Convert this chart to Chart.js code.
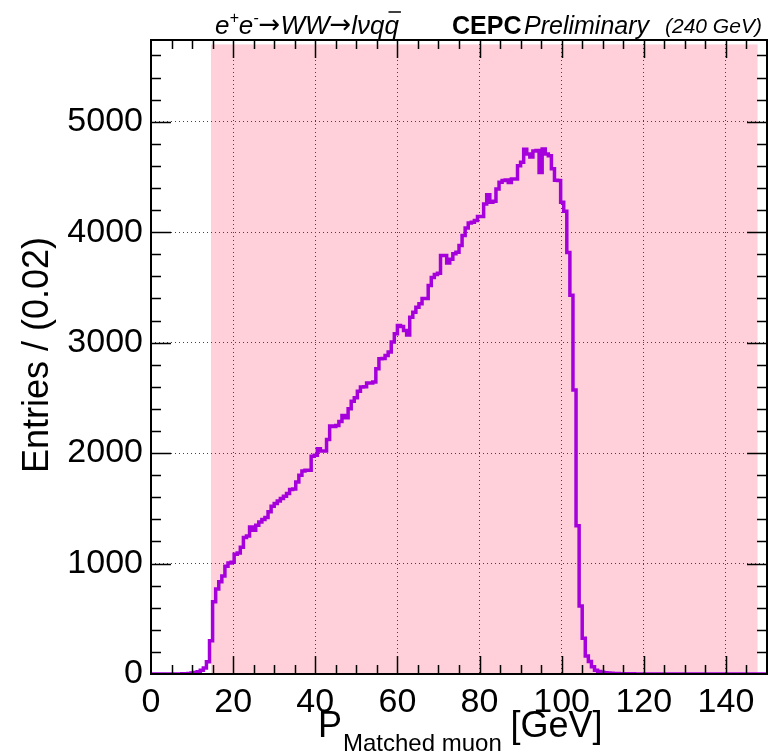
<!DOCTYPE html>
<html>
<head>
<meta charset="utf-8">
<script src="https://cdn.jsdelivr.net/npm/chart.js@4.4.0/dist/chart.umd.min.js"></script>
<style>
  html, body { margin: 0; padding: 0; background: #fff; }
  #wrap { width: 771px; height: 756px; }
</style>
</head>
<body>
<div id="wrap"><canvas id="histCanvas" width="771" height="756"></canvas></div>
<script>
  // Histogram binning (GeV)
  const xMin = 0;
  const xMax = 150;
  const binWidth = 0.75;

  // Entries per 0.75 GeV bin
  const entries = [
    0, 0, 0, 0, 0, 0, 0, 0, 0, 0,
    1, 2, 3, 5, 8, 13, 20, 35, 55, 110,
    300, 654, 770, 835, 888, 975, 1005, 1012, 1085, 1095,
    1148, 1235, 1250, 1332, 1302, 1347, 1377, 1398, 1416, 1468,
    1519, 1543, 1567, 1588, 1609, 1634, 1670, 1676, 1739, 1799,
    1839, 1845, 1845, 1971, 1980, 2040, 2019, 2019, 2122, 2245,
    2240, 2250, 2285, 2340, 2320, 2402, 2470, 2500, 2560, 2598,
    2600, 2634, 2634, 2643, 2764, 2854, 2856, 2884, 2915, 3005,
    3080, 3156, 3147, 3110, 3070, 3231, 3276, 3321, 3352, 3400,
    3400, 3517, 3590, 3617, 3629, 3789, 3789, 3720, 3755, 3804,
    3819, 3879, 3970, 4039, 4084, 4090, 4105, 4141, 4141, 4256,
    4340, 4270, 4280, 4391, 4452, 4467, 4473, 4450, 4482, 4482,
    4602, 4633, 4750, 4708, 4680, 4735, 4740, 4540, 4753, 4708,
    4693, 4575, 4470, 4467, 4271, 4190, 3815, 3430, 2572, 1343,
    615, 324, 162, 113, 65, 35, 22, 15, 11, 8,
    6, 5, 4, 3, 3, 2, 2, 2, 1, 1,
    1, 1, 1, 1, 1, 1, 1, 1, 0, 0,
    0, 0, 0, 0, 0, 0, 0, 0, 0, 0,
    0, 0, 0, 0, 0, 0, 0, 0, 0, 0,
    0, 0, 0, 0, 0, 0, 0, 0, 0, 0
  ];

  // Axis ranges and ticks
  const yMax = 5740;
  const xTickLabels = [0, 20, 40, 60, 80, 100, 120, 140];
  const yTickLabels = [0, 1000, 2000, 3000, 4000, 5000];
  const xMinorStep = 5;
  const yMinorStep = 200;

  // Shaded selection window
  const bandRange = [14.6, 147.7];
  const bandTop = 5700;

  const fontFamily = '"Liberation Sans", Arial, Helvetica, sans-serif';

  // histogram outline points (left bin edges, plus closing edge)
  const histPoints = entries.map((v, i) => ({ x: xMin + i * binWidth, y: v }));
  histPoints.push({ x: xMax, y: entries[entries.length - 1] });

  // pink band, drawn before the grid so the dotted lines stay on top
  const bandPlugin = {
    id: "band",
    beforeDraw(chart) {
      const { ctx, scales: { x, y } } = chart;
      ctx.save();
      ctx.fillStyle = "#fff";
      ctx.fillRect(0, 0, chart.width, chart.height);
      const x0 = x.getPixelForValue(bandRange[0]);
      const x1 = x.getPixelForValue(bandRange[1]);
      const yTop = y.getPixelForValue(bandTop);
      const yBot = y.getPixelForValue(0);
      ctx.fillStyle = "#ffd0d9";
      ctx.fillRect(x0, yTop, x1 - x0, yBot - yTop);
      ctx.restore();
    }
  };

  // ROOT style frame, inward ticks and texts
  const framePlugin = {
    id: "frame",
    afterDraw(chart) {
      const { ctx, chartArea: a, scales: { x, y } } = chart;
      ctx.save();
      ctx.strokeStyle = "#000";
      ctx.lineWidth = 1.5;
      ctx.beginPath();
      for (let v = xMin + xMinorStep; v < xMax; v += xMinorStep) {
        const len = xTickLabels.includes(v) ? 18 : 9;
        const px = Math.round(x.getPixelForValue(v)) + 0.5;
        ctx.moveTo(px, a.bottom); ctx.lineTo(px, a.bottom - len);
        ctx.moveTo(px, a.top); ctx.lineTo(px, a.top + len);
      }
      for (let v = yMinorStep; v < yMax; v += yMinorStep) {
        const len = yTickLabels.includes(v) ? 20 : 10;
        const py = Math.round(y.getPixelForValue(v)) + 0.5;
        ctx.moveTo(a.left, py); ctx.lineTo(a.left + len, py);
        ctx.moveTo(a.right, py); ctx.lineTo(a.right - len, py);
      }
      ctx.stroke();

      ctx.lineWidth = 2;
      ctx.strokeRect(a.left, a.top, a.right - a.left, a.bottom - a.top);

      // axis titles
      ctx.fillStyle = "#000";
      ctx.save();
      ctx.translate(38, 355);
      ctx.rotate(-Math.PI / 2);
      ctx.font = "36px " + fontFamily;
      ctx.textAlign = "center";
      ctx.textBaseline = "middle";
      ctx.fillText("Entries / (0.02)", 0, 0);
      ctx.restore();

      ctx.textAlign = "left";
      ctx.textBaseline = "alphabetic";
      let tx = 318;
      ctx.font = "36px " + fontFamily;
      ctx.fillText("P", tx, 737);
      tx += ctx.measureText("P").width + 1;
      ctx.font = "24px " + fontFamily;
      ctx.fillText("Matched muon", tx, 751);
      tx += ctx.measureText("Matched muon ").width + 2;
      ctx.font = "36px " + fontFamily;
      ctx.fillText("[GeV]", tx, 737);

      // header line
      const base = 34;
      tx = 215;
      const it = "italic 26px " + fontFamily;
      const arrow = "26px \"DejaVu Sans\", sans-serif";
      const sup = "italic 16px " + fontFamily;
      const put = (txt, font, dy) => {
        ctx.font = font;
        ctx.fillText(txt, tx, base + (dy || 0));
        tx += ctx.measureText(txt).width;
      };
      put("e", it);
      put("+", sup, -11);
      put("e", it);
      put("-", sup, -11);
      put("\u2192", arrow, -1);
      put("WW", it);
      put("\u2192", arrow, -1);
      put("l\u03bdq", it);
      ctx.font = it;
      const qw = ctx.measureText("q").width;
      ctx.lineWidth = 1.5;
      ctx.beginPath();
      ctx.moveTo(tx + 4, base - 22); ctx.lineTo(tx + qw + 2, base - 22);
      ctx.stroke();
      put("q", it);

      ctx.font = "bold 25px " + fontFamily;
      ctx.fillText("CEPC", 452, base);
      ctx.font = "italic 25px " + fontFamily;
      ctx.fillText("Preliminary", 524, base);
      ctx.font = "italic 21px " + fontFamily;
      ctx.fillText("(240 GeV)", 665, base - 1);
      ctx.restore();
    }
  };

  const histCanvas = document.getElementById("histCanvas");

  const histChart = new Chart(histCanvas, {
    type: "line",
    data: {
      datasets: [{
        label: "Matched muon",
        data: histPoints,
        stepped: "after",
        borderColor: "#a500dc",
        borderWidth: 3.5,
        pointRadius: 0,
        fill: false
      }]
    },
    options: {
      responsive: false,
      animation: false,
      layout: { padding: { top: 40, right: 4, left: 0, bottom: 0 } },
      plugins: { legend: { display: false }, tooltip: { enabled: false } },
      scales: {
        x: {
          type: "linear",
          min: xMin,
          max: xMax,
          afterFit: s => { s.height = 82; },
          afterBuildTicks: s => { s.ticks = xTickLabels.map(v => ({ value: v })); },
          grid: { color: "#444", lineWidth: 1, drawTicks: false },
          border: { display: false, dash: [1, 3] },
          ticks: {
            autoSkip: false,
            padding: 8,
            color: "#000",
            font: { family: fontFamily, size: 34 },
            maxRotation: 0,
            callback: v => String(v)
          }
        },
        y: {
          min: 0,
          max: yMax,
          afterFit: s => { s.width = 151; },
          afterBuildTicks: s => { s.ticks = yTickLabels.map(v => ({ value: v })); },
          grid: { color: "#444", lineWidth: 1, drawTicks: false },
          border: { display: false, dash: [1, 3] },
          ticks: {
            autoSkip: false,
            padding: 8,
            color: "#000",
            font: { family: fontFamily, size: 34 },
            callback: v => String(v)
          }
        }
      }
    },
    plugins: [bandPlugin, framePlugin]
  });
</script>
</body>
</html>
